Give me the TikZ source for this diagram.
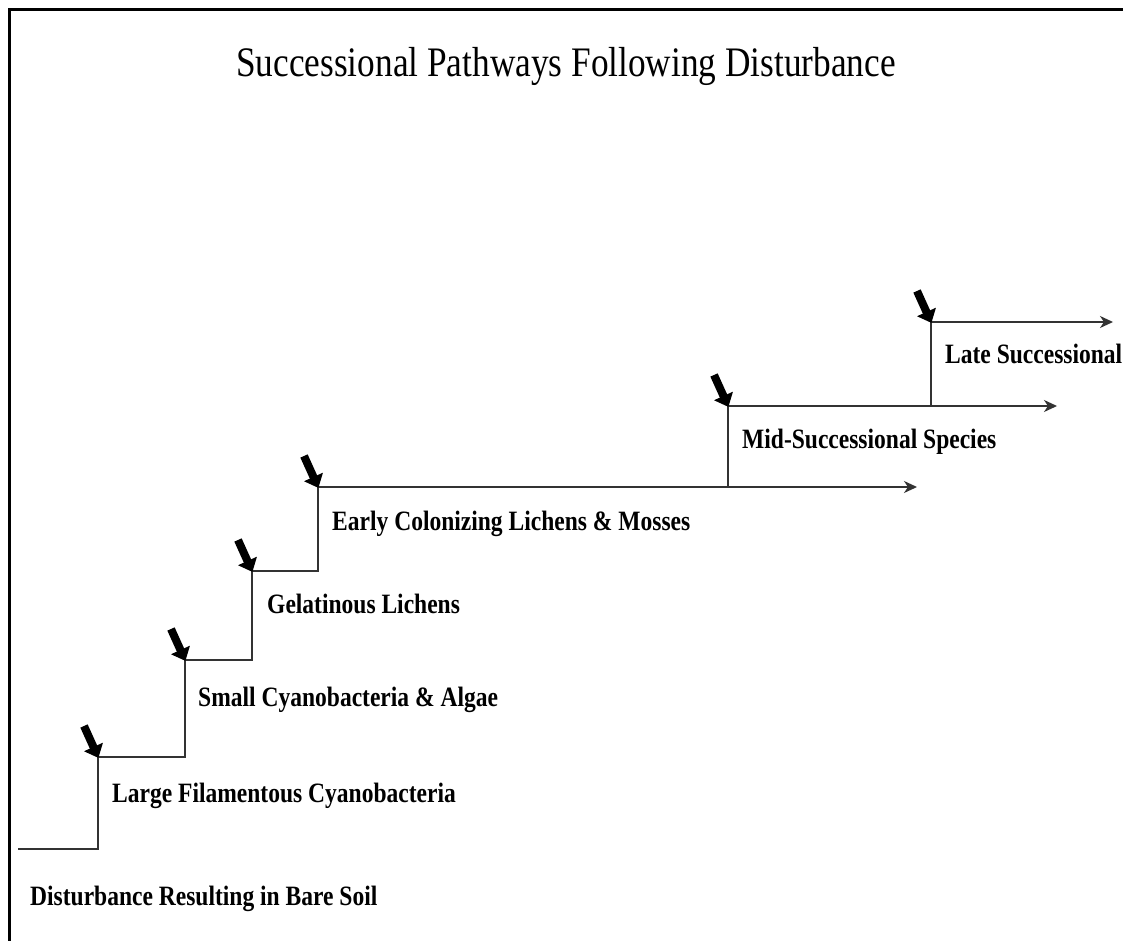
\documentclass[tikz,border=0pt]{standalone}
\usepackage{fontspec}
\setmainfont{Liberation Serif}
\newfontfamily\stretchserif{Liberation Serif}[FakeStretch=0.84]
\usetikzlibrary{arrows.meta}
\tikzset{
  stair/.style={draw=black!80, line width=1.8pt},
  flow/.style={stair, -{Stealth[length=13pt,width=12pt,inset=4pt]}},
  entry/.style={draw=black, line width=8pt, -{Triangle[length=12pt,width=20pt]}, shorten >=-1pt},
  lbl/.style={anchor=base west, inner sep=0pt, font=\stretchserif\bfseries\fontsize{28pt}{30pt}\selectfont},
  ttl/.style={anchor=base, inner sep=0pt, font=\stretchserif\fontsize{42pt}{45pt}\selectfont},
  frame/.style={draw=black, line width=3pt}
}
\begin{document}
\begin{tikzpicture}[x=1pt,y=-1pt]
\useasboundingbox (0,0) rectangle (1123,941);
\fill[white] (0,0) rectangle (1123,941);
% frame (left and top edges)
\draw[frame] (9,941) -- (9,10) -- (1123,10);
% title
\node[ttl] (title) at (566,77) {Successional Pathways Following Disturbance};
% stair corners
\coordinate (s0) at (18,849);
\coordinate (b1) at (98,849);
\coordinate (p1) at (98,757);
\coordinate (b2) at (185,757);
\coordinate (p2) at (185,660);
\coordinate (b3) at (252,660);
\coordinate (p3) at (252,571);
\coordinate (b4) at (318,571);
\coordinate (p4) at (318,487);
\coordinate (e4) at (917,487);
\coordinate (b5) at (728,487);
\coordinate (p5) at (728,406);
\coordinate (e5) at (1057,406);
\coordinate (b6) at (931,406);
\coordinate (p6) at (931,322);
\coordinate (e6) at (1113,322);
% entry arrow tails
\coordinate (t1) at (84,726);
\coordinate (t2) at (171,629);
\coordinate (t3) at (238,540);
\coordinate (t4) at (304,456);
\coordinate (t5) at (714,375);
\coordinate (t6) at (917,291);
% staircase
\draw[stair] (s0) -- (b1) -- (p1) -- (b2) -- (p2) -- (b3) -- (p3) -- (b4) -- (p4);
\draw[flow] (p4) -- (e4);
\draw[stair] (b5) -- (p5);
\draw[flow] (p5) -- (e5);
\draw[stair] (b6) -- (p6);
\draw[flow] (p6) -- (e6);
% entry arrows
\foreach \i in {1,...,6}{
  \draw[entry] (t\i) -- (p\i);
}
% labels
\node[lbl] (l0) at (30,905) {Disturbance Resulting in Bare Soil};
\node[lbl] (l1) at (112,802) {Large Filamentous Cyanobacteria};
\node[lbl] (l2) at (198,706) {Small Cyanobacteria \& Algae};
\node[lbl] (l3) at (267,613) {Gelatinous Lichens};
\node[lbl] (l4) at (332,530) {Early Colonizing Lichens \& Mosses};
\node[lbl] (l5) at (742,448) {Mid-Successional Species};
\node[lbl] (l6) at (945,363) {Late Successional};
\end{tikzpicture}
\end{document}
